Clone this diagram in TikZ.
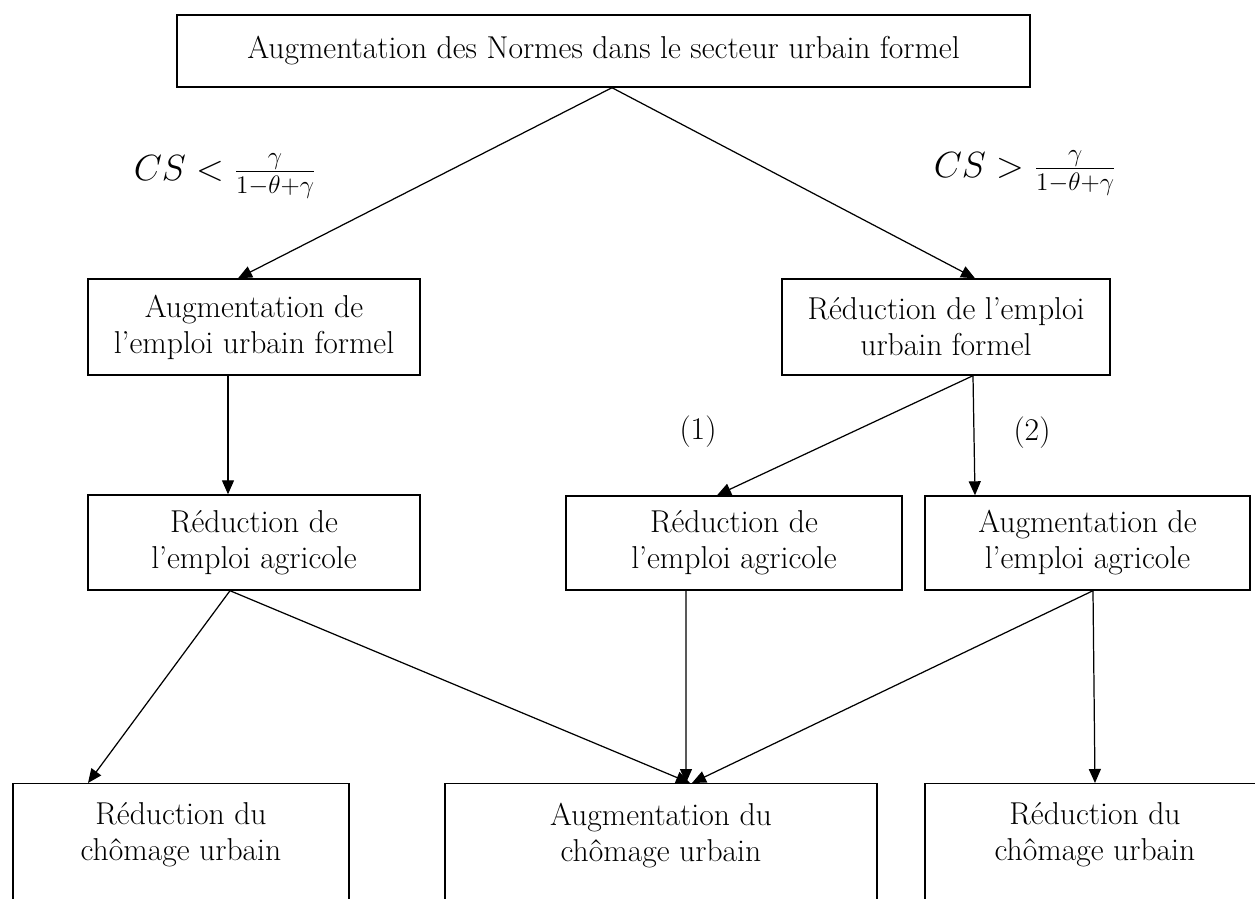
\documentclass[tikz,border=0pt]{standalone}
\usepackage{amsmath,amssymb}
\usepackage{fontspec}
\usepackage{tikz}
\usetikzlibrary{arrows.meta,positioning}
\newcommand{\lowtext}[1]{\parbox[t][2.6cm][t]{6cm}{\centering #1}}

\begin{document}
\begin{tikzpicture}[
    textbox/.style={draw, line width=0.8pt, rectangle, align=center, inner sep=0,
        font=\fontsize{18}{20.5}\selectfont},
    midbox/.style={textbox, minimum height=1.92cm},
    lowbox/.style={draw, line width=0.8pt, rectangle, anchor=north, inner xsep=0, inner ysep=0.38cm,
        font=\fontsize{18}{20.5}\selectfont},
    link/.style={line width=0.7pt, -{Triangle[length=0.28cm,width=0.24cm]}},
    cond/.style={font=\fontsize{20}{24}\selectfont},
    tag/.style={font=\fontsize{18}{20.5}\selectfont}]

\path[use as bounding box] (0,0) rectangle (25.1,-17.98);
\fill[white] (0,0) rectangle (25.1,-17.98);
\clip (0,0) rectangle (25.1,-17.98);

% boxes
\node[textbox, minimum width=17.06cm, minimum height=1.44cm] (norms) at (12.07,-1.02) {Augmentation des Normes dans le secteur urbain formel};

\node[midbox, minimum width=6.64cm] (urbup)   at (5.08,-6.54)  {Augmentation de\\l'emploi urbain formel};
\node[midbox, minimum width=6.56cm] (urbdown) at (18.92,-6.54) {Réduction de l'emploi\\urbain formel};

\node[midbox, minimum width=6.64cm, minimum height=1.9cm] (agrdownL) at (5.08,-10.85)  {Réduction de\\l'emploi agricole};
\node[midbox, minimum width=6.72cm, minimum height=1.88cm] (agrdownR) at (14.68,-10.86) {Réduction de\\l'emploi agricole};
\node[midbox, minimum width=6.5cm,  minimum height=1.88cm] (agrup)    at (21.75,-10.86) {Augmentation de\\l'emploi agricole};

\node[lowbox, minimum width=6.72cm] (chomdownL) at (3.62,-15.66)  {\lowtext{Réduction du\\chômage urbain}};
\node[lowbox, minimum width=8.64cm] (chomup)    at (13.22,-15.66) {\lowtext{Augmentation du\\chômage urbain}};
\node[lowbox, minimum width=6.8cm]  (chomdownR) at (21.9,-15.66)  {\lowtext{Réduction du\\chômage urbain}};

% conditions and branch tags
\node[cond] (condlow)  at (4.5,-3.52)  {$CS<\frac{\gamma}{1-\theta+\gamma}$};
\node[cond] (condhigh) at (20.5,-3.46) {$CS>\frac{\gamma}{1-\theta+\gamma}$};
\node[tag] (tagone) at (13.96,-8.64) {(1)};
\node[tag] (tagtwo) at (20.64,-8.66) {(2)};

% arrows
\draw[link] ([xshift=0.17cm]norms.south) -- ([xshift=-0.32cm]urbup.north);
\draw[link] ([xshift=0.17cm]norms.south) -- ([xshift=0.58cm]urbdown.north);
\draw[link] ([xshift=-0.52cm]urbup.south) -- ([xshift=-0.52cm]agrdownL.north);
\draw[link] ([xshift=0.54cm]urbdown.south) -- ([xshift=-0.34cm]agrdownR.north);
\draw[link] ([xshift=0.54cm]urbdown.south) -- ([xshift=-2.25cm]agrup.north);
\draw[link] ([xshift=-0.48cm]agrdownL.south) -- ([xshift=-1.86cm]chomdownL.north);
\draw[link] ([xshift=-0.48cm]agrdownL.south) -- ([xshift=0.58cm]chomup.north);
\draw[link] ([xshift=-0.96cm]agrdownR.south) -- ([xshift=0.5cm]chomup.north);
\draw[link] ([xshift=0.11cm]agrup.south) -- ([xshift=0.62cm]chomup.north);
\draw[link] ([xshift=0.11cm]agrup.south) -- (chomdownR.north);

\end{tikzpicture}
\end{document}
